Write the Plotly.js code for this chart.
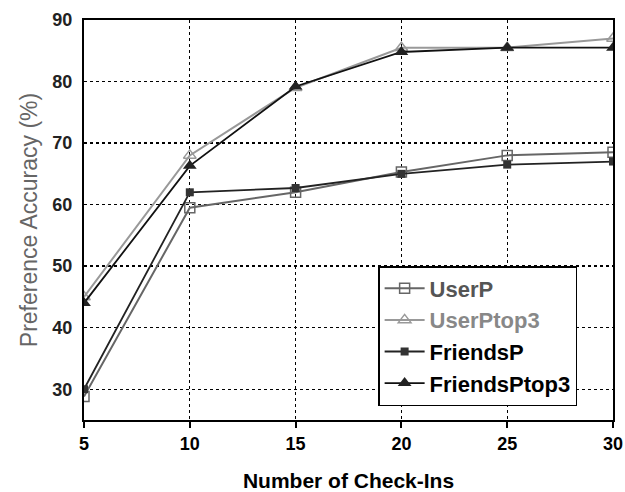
<!DOCTYPE html>
<html><head><meta charset="utf-8">
<script src="https://cdn.plot.ly/plotly-3.0.1.min.js"></script>
<style>html,body{margin:0;padding:0;background:#fff}#chart{width:625px;height:492px}</style>
</head><body><div id="chart"></div>
<script>
const checkIns = [5, 10, 15, 20, 25, 30];
const userP = [28.8, 59.5, 62.0, 65.3, 68.0, 68.5];
const userPtop3 = [45.0, 68.0, 79.0, 85.5, 85.5, 87.0];
const friendsP = [30.0, 62.0, 62.7, 65.0, 66.5, 67.0];
const friendsPtop3 = [44.0, 66.3, 79.2, 84.8, 85.5, 85.5];
const yTicks = [30, 40, 50, 60, 70, 80, 90];

const traces = [
  {x: checkIns, y: userP, name: '<span style="color:#555">UserP</span>', mode: 'lines+markers',
   line: {color: '#666', width: 2}, marker: {symbol: 'square-open', size: 10, color: '#666', line: {width: 1.5}}},
  {x: checkIns, y: userPtop3, name: '<span style="color:#888">UserPtop3</span>', mode: 'lines+markers',
   line: {color: '#999', width: 2}, marker: {symbol: 'triangle-up-open', size: 11, color: '#999', line: {width: 1.5}}},
  {x: checkIns, y: friendsP, name: 'FriendsP', mode: 'lines+markers',
   line: {color: '#222', width: 1.8}, marker: {symbol: 'square', size: 8, color: '#333'}},
  {x: checkIns, y: friendsPtop3, name: 'FriendsPtop3', mode: 'lines+markers',
   line: {color: '#111', width: 1.8}, marker: {symbol: 'triangle-up', size: 12, color: '#222'}}
];

const layout = {
  width: 625, height: 492,
  margin: {l: 84, r: 12, t: 20, b: 72},
  paper_bgcolor: '#fff', plot_bgcolor: '#fff',
  font: {family: 'Liberation Sans, Arial, sans-serif', color: '#000'},
  xaxis: {
    range: [5, 30], tickvals: checkIns, ticktext: checkIns.map(String),
    showline: true, linecolor: '#000', linewidth: 2, mirror: true,
    showgrid: true, gridcolor: '#000', griddash: 'dot', gridwidth: 1.3,
    ticks: 'outside', ticklen: 6, tickwidth: 2, tickcolor: '#000',
    tickfont: {size: 18, weight: 'bold'},
    title: {text: '<b>Number of Check-Ins</b>', font: {size: 21}, standoff: 22},
    zeroline: false
  },
  yaxis: {
    range: [25, 90], tickvals: yTicks, ticktext: yTicks.map(String),
    showline: true, linecolor: '#000', linewidth: 2, mirror: true,
    showgrid: true, gridcolor: '#000', griddash: 'dot', gridwidth: 1.3,
    ticks: '', ticklabelstandoff: 6, tickfont: {size: 18, color: '#222', weight: 'bold'},
    title: {text: 'Preference Accuracy (%)', font: {size: 23, color: '#666'}, standoff: 8},
    zeroline: false
  },
  legend: {
    x: 0.556, y: 0.385, xanchor: 'left', yanchor: 'top',
    bgcolor: '#fff', bordercolor: '#000', borderwidth: 1.5,
    font: {size: 22, weight: 'bold', color: '#000'},
    tracegroupgap: 0, itemwidth: 40
  },
  showlegend: true
};

Plotly.newPlot('chart', traces, layout, {displayModeBar: false, staticPlot: true});
</script></body></html>
